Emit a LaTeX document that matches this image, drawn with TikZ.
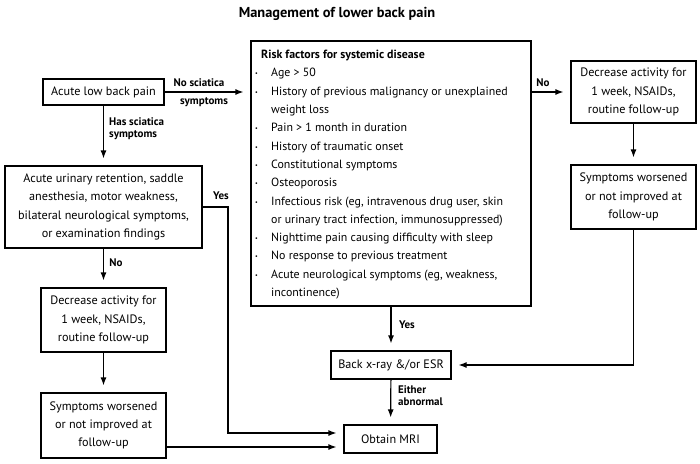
\documentclass[tikz,border=0pt]{standalone}
\usepackage{fontspec}
\setmainfont{PT Sans}
\usetikzlibrary{arrows.meta,positioning}

\newcommand{\itm}{\makebox[17pt][l]{\hspace{1pt}\raisebox{1pt}{\fontsize{6}{6}\selectfont\textbullet}}}
\newcommand{\cnt}{\hspace{17pt}}

\begin{document}
\begin{tikzpicture}[x=1pt, y=-1pt,
    box/.style={draw, rectangle, line width=1.2pt, align=center, inner sep=0pt,
      font=\fontsize{12.2}{18.3}\selectfont},
    flow/.style={-{Latex[length=8pt,width=6pt]}, line width=1.2pt, shorten >=7pt},
    lbl/.style={font=\fontsize{11}{12}\selectfont\bfseries, inner sep=0pt}]
    \useasboundingbox (0,0) rectangle (700,463);

    \node (title) at (337,14) {\fontsize{14.4}{16}\selectfont\bfseries Management of lower back pain};

    % left column
    \node (acute) [box, minimum width=121pt, minimum height=26pt] at (103.5,92) {Acute low back pain};
    \node (urinary) [box, minimum width=197pt, minimum height=82pt] at (103.5,207)
        {Acute urinary retention, saddle\\anesthesia, motor weakness,\\bilateral neurological symptoms,\\or examination findings};
    \node (decleft) [box, minimum width=125pt, minimum height=64pt] at (103.5,320)
        {Decrease activity for\\1 week, NSAIDs,\\routine follow-up};
    \node (symleft) [box, minimum width=125pt, minimum height=65pt] at (103.5,425.5)
        {Symptoms worsened\\or not improved at\\follow-up};

    % middle column
    \node (risk) [box, minimum width=280pt, minimum height=265pt] at (391,173.5) {};
    \node (risklist) [anchor=north west, align=left, inner sep=0pt,
        font=\fontsize{11.9}{18.3}\selectfont] at (254,50)
        {\hspace{7pt}\textbf{Risk factors for systemic disease}\\
         \itm Age > 50\\
         \itm History of previous malignancy or unexplained\\
         \cnt weight loss\\
         \itm Pain > 1 month in duration\\
         \itm History of traumatic onset\\
         \itm Constitutional symptoms\\
         \itm Osteoporosis\\
         \itm Infectious risk (eg, intravenous drug user, skin\\
         \cnt or urinary tract infection, immunosuppressed)\\
         \itm Nighttime pain causing difficulty with sleep\\
         \itm No response to previous treatment\\
         \itm Acute neurological symptoms (eg, weakness,\\
         \cnt incontinence)};
    \node (xray) [box, minimum width=120pt, minimum height=28pt] at (391,365) {Back x-ray \&/or ESR};
    \node (mri) [box, minimum width=93pt, minimum height=28pt] at (390.5,439) {Obtain MRI};

    % right column
    \node (decright) [box, minimum width=125pt, minimum height=62pt] at (633.5,92)
        {Decrease activity for\\1 week, NSAIDs,\\routine follow-up};
    \node (symright) [box, minimum width=125pt, minimum height=64pt] at (633.5,197)
        {Symptoms worsened\\or not improved at\\follow-up};

    \coordinate (yesbend) at (228,433);
    \coordinate (dout) at ([yshift=-21.5pt]symleft.east);

    \draw[flow] (acute.east) -- (acute.east -| risk.west);
    \draw[flow] (acute) -- (urinary);
    \draw[flow] (urinary.east) -| (yesbend) -- (yesbend -| mri.west);
    \draw[flow] (urinary) -- (decleft);
    \draw[flow] (decleft) -- (symleft);
    \draw[flow] (dout) -- (dout -| mri.west);
    \draw[flow] (risk.east |- decright.west) -- (decright.west);
    \draw[flow] (decright) -- (symright);
    \draw[flow] (symright.south) |- (xray.east);
    \draw[flow] (risk) -- (xray);
    \draw[flow] (xray) -- (mri);

    \node (nosci) [lbl] at (199,83) {No sciatica};
    \node (nosci2) [lbl] at (204,102) {symptoms};
    \node (hassci) [lbl, anchor=west, align=left] at (109,129) {Has sciatica\\symptoms};
    \node (yesleft) [lbl] at (221,196) {Yes};
    \node (noleft) [lbl] at (116,263) {No};
    \node (noright) [lbl] at (543,83) {No};
    \node (yesmid) [lbl] at (407,325) {Yes};
    \node (either) [lbl, anchor=west, align=left] at (398,396) {Either\\abnormal};
\end{tikzpicture}
\end{document}
